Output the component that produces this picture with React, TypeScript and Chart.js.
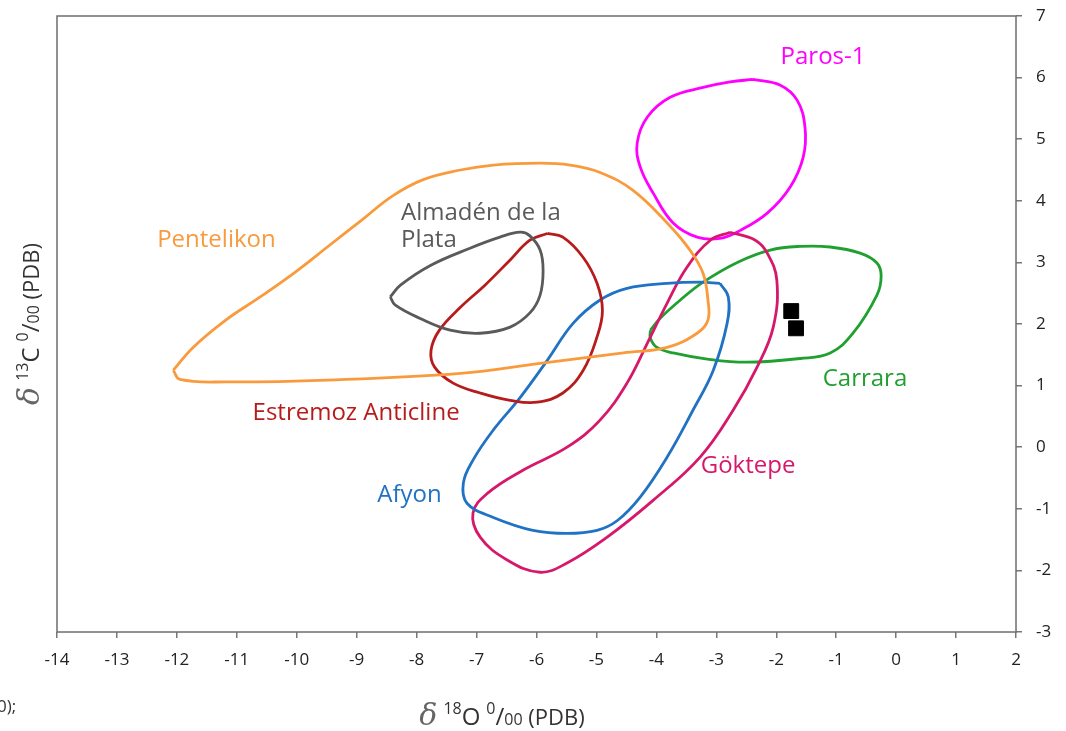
import React, { useEffect, useRef } from "react";
import { Chart, registerables } from "chart.js";

Chart.register(...registerables);

// Axis ranges / ticks
const xMin = -14;
const xMax = 2;
const yMin = -3;
const yMax = 7;

// Field outlines (δ18O, δ13C)
const pentelikon: [number, number][] = [
  [-12.06, 1.25], [-11.73, 1.62], [-11.19, 2.06], [-10.61, 2.44], [-10.03, 2.84],
  [-9.49, 3.25], [-8.9, 3.7], [-8.4, 4.08], [-7.9, 4.34], [-7.27, 4.5], [-6.72, 4.58],
  [-5.94, 4.61], [-5.44, 4.58], [-4.94, 4.46], [-4.39, 4.17], [-3.82, 3.64],
  [-3.44, 3.2], [-3.22, 2.82], [-3.14, 2.39], [-3.14, 2.06], [-3.32, 1.85],
  [-3.82, 1.62], [-4.55, 1.53], [-5.94, 1.36], [-7.27, 1.2], [-9.49, 1.09],
  [-11.16, 1.06], [-11.95, 1.1],
];
const almaden: [number, number][] = [
  [-8.44, 2.44], [-8.27, 2.63], [-7.77, 2.95], [-7.11, 3.23], [-6.61, 3.41],
  [-6.27, 3.49], [-6.11, 3.43], [-5.94, 3.2], [-5.89, 2.87], [-5.94, 2.47],
  [-6.11, 2.18], [-6.44, 1.95], [-6.94, 1.85], [-7.44, 1.9], [-7.94, 2.09],
  [-8.36, 2.31],
];
const estremoz: [number, number][] = [
  [-5.82, 3.47], [-5.56, 3.41], [-5.22, 3.08], [-4.99, 2.66], [-4.9, 2.22],
  [-4.99, 1.79], [-5.22, 1.25], [-5.56, 0.88], [-5.99, 0.73], [-6.44, 0.76],
  [-6.94, 0.88], [-7.39, 1.04], [-7.7, 1.3], [-7.76, 1.57], [-7.62, 1.9],
  [-7.27, 2.27], [-6.86, 2.63], [-6.44, 3.04], [-6.11, 3.36],
];
const afyon: [number, number][] = [
  [-2.94, 2.66], [-2.8, 2.44], [-2.82, 2.01], [-3.05, 1.25], [-3.39, 0.6],
  [-3.82, -0.16], [-4.27, -0.81], [-4.65, -1.19], [-4.99, -1.35], [-5.49, -1.4],
  [-6.06, -1.35], [-6.72, -1.14], [-7.16, -0.91], [-7.22, -0.58], [-7.06, -0.21],
  [-6.72, 0.28], [-6.27, 0.81], [-5.82, 1.41], [-5.39, 2.01], [-4.94, 2.39],
  [-4.49, 2.58], [-3.82, 2.66], [-3.27, 2.68],
];
const goktepe: [number, number][] = [
  [-2.77, 3.49], [-2.35, 3.36], [-2.15, 3.15], [-1.99, 2.71], [-2.05, 1.95],
  [-2.32, 1.3], [-2.72, 0.6], [-3.27, -0.16], [-4.05, -0.86], [-4.82, -1.46],
  [-5.49, -1.88], [-5.94, -2.03], [-6.49, -1.83], [-6.94, -1.46], [-7.06, -1.07],
  [-6.82, -0.75], [-6.22, -0.37], [-5.49, 0.0], [-4.94, 0.44], [-4.49, 1.04],
  [-4.15, 1.69], [-3.82, 2.34], [-3.49, 2.92], [-3.1, 3.36],
];
const carrara: [number, number][] = [
  [-4.1, 1.9], [-3.94, 2.09], [-3.6, 2.39], [-3.22, 2.68], [-2.65, 3.0],
  [-2.1, 3.2], [-1.6, 3.26], [-1.1, 3.25], [-0.6, 3.15], [-0.32, 2.99],
  [-0.25, 2.78], [-0.32, 2.47], [-0.72, 1.85], [-1.1, 1.53], [-1.6, 1.44],
  [-2.49, 1.38], [-3.15, 1.43], [-3.72, 1.53], [-3.99, 1.62], [-4.1, 1.77],
];
const paros: [number, number][] = [
  [-2.39, 5.97], [-1.94, 5.88], [-1.65, 5.63], [-1.52, 5.19], [-1.55, 4.71],
  [-1.77, 4.22], [-2.15, 3.8], [-2.6, 3.52], [-2.94, 3.39], [-3.32, 3.41],
  [-3.72, 3.64], [-4.05, 4.12], [-4.27, 4.55], [-4.32, 4.94], [-4.15, 5.36],
  [-3.77, 5.68], [-3.22, 5.84], [-2.77, 5.93],
];

// Samples
const sampleX = [-1.75, -1.67];
const sampleY = [2.21, 1.93];

const FONT = "'Open Sans', sans-serif";

const fields = [
  { name: "Pentelikon", pts: pentelikon, color: "#F99B3D" },
  { name: "Almadén de la Plata", pts: almaden, color: "#5A5A5A" },
  { name: "Estremoz Anticline", pts: estremoz, color: "#B71C1C" },
  { name: "Afyon", pts: afyon, color: "#1F72C4" },
  { name: "Göktepe", pts: goktepe, color: "#D6186A" },
  { name: "Carrara", pts: carrara, color: "#20A030" },
  { name: "Paros-1", pts: paros, color: "#FF00FF" },
];

const fieldLabels = [
  { lines: ["Paros-1"], x: -1.22, y: 6.33, color: "#FF00FF", align: "center" },
  { lines: ["Pentelikon"], x: -11.34, y: 3.36, color: "#F99B3D", align: "center" },
  { lines: ["Almadén de la", "Plata"], x: -8.26, y: 3.8, color: "#5A5A5A", align: "left" },
  { lines: ["Estremoz Anticline"], x: -9.01, y: 0.55, color: "#B71C1C", align: "center" },
  { lines: ["Afyon"], x: -8.12, y: -0.78, color: "#1F72C4", align: "center" },
  { lines: ["Göktepe"], x: -2.47, y: -0.31, color: "#D6186A", align: "center" },
  { lines: ["Carrara"], x: -0.52, y: 1.1, color: "#20A030", align: "center" },
];

type Run = { t: string; f: string; dy?: number; c?: string };

function drawRuns(ctx: CanvasRenderingContext2D, runs: Run[], cx: number, cy: number, color: string) {
  let total = 0;
  for (const r of runs) {
    ctx.font = r.f;
    total += ctx.measureText(r.t).width;
  }
  let x = cx - total / 2;
  ctx.textBaseline = "alphabetic";
  ctx.textAlign = "left";
  for (const r of runs) {
    ctx.font = r.f;
    ctx.fillStyle = r.c || color;
    ctx.fillText(r.t, x, cy + (r.dy || 0));
    x += ctx.measureText(r.t).width;
  }
}

const titleRuns = (iso: string, el: string): Run[] => [
  { t: "δ", f: "italic 30px 'DejaVu Serif', serif", c: "#666" },
  { t: " ", f: `23px ${FONT}` },
  { t: iso, f: `16px ${FONT}`, dy: -11 },
  { t: el, f: `24px ${FONT}` },
  { t: " ", f: `23px ${FONT}` },
  { t: "0", f: `16px ${FONT}`, dy: -11 },
  { t: "/", f: `24px ${FONT}` },
  { t: "00", f: `16px ${FONT}` },
  { t: " (PDB)", f: `22px ${FONT}` },
];

const framePlugin = {
  id: "frame",
  afterDraw(chart: any) {
    const { ctx, chartArea: a } = chart;
    ctx.save();
    ctx.strokeStyle = "#6E6E6E";
    ctx.lineWidth = 1.5;
    ctx.strokeRect(a.left, a.top, a.right - a.left, a.bottom - a.top);
    ctx.restore();
  },
};

const labelsPlugin = {
  id: "fieldLabels",
  afterDatasetsDraw(chart: any) {
    const { ctx, scales } = chart;
    ctx.save();
    ctx.font = `24px ${FONT}`;
    ctx.textBaseline = "middle";
    for (const l of fieldLabels) {
      const px = scales.x.getPixelForValue(l.x);
      const py = scales.y.getPixelForValue(l.y);
      ctx.fillStyle = l.color;
      ctx.textAlign = l.align as CanvasTextAlign;
      l.lines.forEach((s, i) => ctx.fillText(s, px, py + i * 27));
    }
    ctx.restore();
  },
};

const titlesPlugin = {
  id: "titles",
  afterDraw(chart: any) {
    const { ctx } = chart;
    ctx.save();
    drawRuns(ctx, titleRuns("18", "O"), 502, 725, "#333");
    ctx.translate(39, 324);
    ctx.rotate(-Math.PI / 2);
    drawRuns(ctx, titleRuns("13", "C"), 0, 0, "#333");
    ctx.restore();
    ctx.save();
    ctx.font = `17px ${FONT}`;
    ctx.fillStyle = "#333";
    ctx.textBaseline = "middle";
    ctx.fillText("0);", -3, 707);
    ctx.restore();
  },
};

export default function App() {
  const ref = useRef<HTMLCanvasElement>(null);
  useEffect(() => {
    if (!ref.current) return;
    const datasets: any[] = fields.map((f) => ({
      label: f.name,
      data: [...f.pts, f.pts[0]].map(([x, y]) => ({ x, y })),
      showLine: true,
      borderColor: f.color,
      borderWidth: 2.8,
      pointRadius: 0,
      tension: 0.4,
      fill: false,
    }));
    datasets.push({
      label: "Samples",
      data: sampleX.map((x, i) => ({ x, y: sampleY[i] })),
      showLine: false,
      pointStyle: "rect",
      pointRadius: 10.5,
      backgroundColor: "#000",
      borderColor: "#000",
      borderWidth: 1,
    });
    const chart = new Chart(ref.current, {
      type: "scatter",
      data: { datasets },
      options: {
        animation: false,
        responsive: false,
        layout: { padding: { left: 57, top: 16, right: 0, bottom: 0 } },
        plugins: { legend: { display: false }, tooltip: { enabled: false } },
        scales: {
          x: {
            type: "linear",
            min: xMin,
            max: xMax,
            ticks: { stepSize: 1, font: { family: FONT, size: 17 }, color: "#222", padding: 12 },
            grid: { drawOnChartArea: false, drawTicks: true, tickLength: 6, color: "#777", lineWidth: 1.5 },
            border: { display: false },
            afterFit: (s: any) => {
              s.height = 99;
              s.paddingLeft = 0;
              s.paddingRight = 0;
              s.paddingTop = 0;
              s.paddingBottom = 0;
            },
          },
          y: {
            type: "linear",
            position: "right",
            min: yMin,
            max: yMax,
            ticks: { stepSize: 1, font: { family: FONT, size: 17 }, color: "#222", padding: 14 },
            grid: { drawOnChartArea: false, drawTicks: true, tickLength: 6, color: "#777", lineWidth: 1.5 },
            border: { display: false },
            afterFit: (s: any) => {
              s.width = 50;
              s.paddingLeft = 0;
              s.paddingRight = 0;
              s.paddingTop = 0;
              s.paddingBottom = 0;
            },
          },
        },
      } as any,
      plugins: [framePlugin, labelsPlugin, titlesPlugin],
    });
    return () => chart.destroy();
  }, []);
  return (
    <div style={{ position: "fixed", left: 0, top: 0, width: 1066, height: 731, background: "#fff" }}>
      <canvas ref={ref} width={1066} height={731} style={{ width: 1066, height: 731, display: "block" }} />
    </div>
  );
}
